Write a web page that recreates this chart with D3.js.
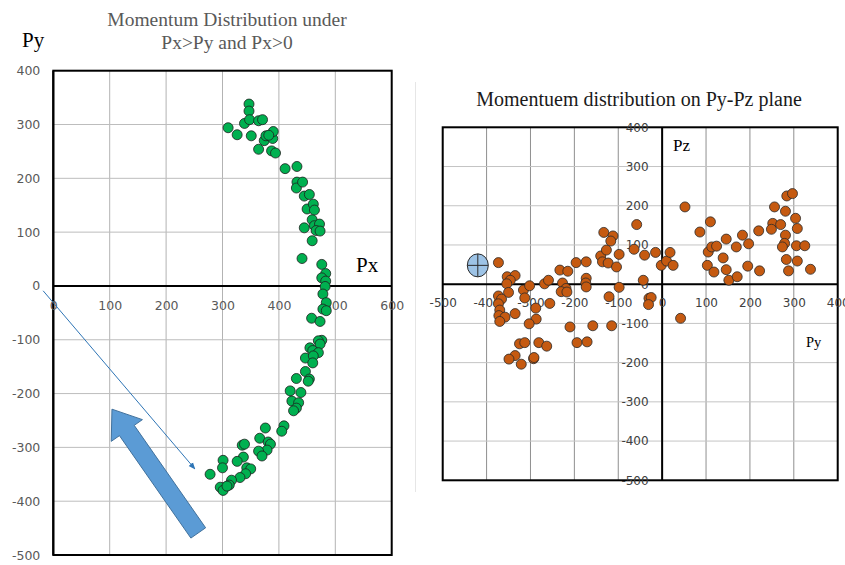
<html lang="en">
  <head>
    <meta charset="UTF-8" />
    <title>Momentum distribution</title>
    <script src="https://d3js.org/d3.v7.min.js"></script>
  </head>
  <style>
    body {
      margin: 0px;
      overflow: hidden;
      background: #fff;
    }
    .tick text {
      font-family: "DejaVu Sans", sans-serif;
    }
    .serif {
      font-family: "Liberation Serif", "Times New Roman", serif;
    }
  </style>
  <body>
    <svg width="845" height="565"></svg>
  </body>
  <footer>
    <script>
      // ---- data ----
      // left chart: Px / Py for Px>Py and Px>0
      var pxPyPoints = [
        [310, 294], [326, 281], [347, 338], [347, 325], [339, 302], [348, 309],
        [351, 279], [364, 307], [371, 309], [364, 254], [374, 270], [377, 279],
        [386, 279], [389, 274], [390, 287], [387, 251], [394, 247], [382, 280],
        [411, 218], [432, 222], [432, 193], [431, 182], [442, 193], [445, 167],
        [454, 170], [450, 143], [461, 152], [463, 141], [459, 123], [463, 112],
        [472, 115], [466, 103], [473, 102], [445, 108], [459, 84], [441, 51],
        [476, 40], [483, 23], [476, 15], [483, 9], [482, -1], [478, -15],
        [484, -31], [478, -43], [484, -46], [458, -60], [473, -66], [476, -101],
        [470, -102], [473, -108], [455, -115], [460, -120], [470, -124], [447, -134],
        [461, -130], [460, -143], [447, -159], [454, -173], [452, -177], [431, -172],
        [420, -195], [439, -198], [423, -214], [435, -217], [431, -227], [426, -232],
        [409, -260], [405, -270],
        [376, -264], [366, -283], [381, -290], [385, -294], [335, -296], [339, -294],
        [379, -305], [364, -307], [370, -316], [337, -318], [301, -324], [326, -326],
        [300, -338], [278, -350], [343, -338], [350, -340], [341, -349], [331, -356],
        [316, -361], [312, -370], [303, -375], [296, -374], [301, -380], [308, -372]
      ];

      // right chart: Py / Pz
      var pyPzPoints = [
        [-373, 55], [-353, 19], [-335, 22], [-346, 10], [-354, 1], [-350, -21],
        [-373, -30], [-366, -38], [-373, -50], [-370, -66], [-372, -80], [-358, -84],
        [-370, -95], [-335, -75], [-316, -15], [-313, -35], [-302, -4], [-288, -61],
        [-287, -89], [-303, -101], [-268, 1], [-259, 10], [-256, -49], [-233, 36],
        [-215, 33], [-227, 3], [-219, -11], [-230, -19], [-217, -20], [-196, 55],
        [-173, 57], [-173, 15], [-174, 3], [-173, -7], [-210, -109], [-158, -106],
        [-115, -106], [-194, -149], [-171, -147], [-325, -152], [-313, -149], [-281, -149],
        [-263, -158], [-335, -182], [-349, -191], [-321, -204], [-293, -190], [-292, -187],
        [-140, 72], [-133, 132], [-112, 123], [-117, 110], [-127, 87], [-136, 57],
        [-123, 54], [-104, 44], [-98, 76], [-121, -32], [-98, -8], [-58, 152],
        [-64, 89], [-40, 74], [-43, 10], [-30, -36], [-25, -34], [-31, -52],
        [-15, 81], [-2, 48], [10, 59], [18, 81], [25, 48], [52, 197],
        [86, 133], [110, 159], [105, 82], [113, 95], [124, 97], [103, 48],
        [118, 31], [139, 67], [146, 115], [146, 37], [152, 10], [169, 95],
        [171, 19], [183, 125], [197, 103], [195, 46], [220, 136], [222, 34],
        [256, 197], [252, 155], [249, 140], [270, 152], [284, 225], [297, 231],
        [281, 186], [304, 168], [308, 142], [281, 125], [279, 104], [274, 95],
        [306, 98], [325, 98], [283, 63], [308, 59], [288, 34], [338, 38],
        [42, -87]
      ];
      var beamPoint = [[-420, 48]];

      var leftXTicks = [0, 100, 200, 300, 400, 500, 600];
      var leftYTicks = [-500, -400, -300, -200, -100, 0, 100, 200, 300, 400];
      var rightTicks = [-500, -400, -300, -200, -100, 0, 100, 200, 300, 400];

      // annotation arrows (data units of the left chart)
      var thinArrow = [[-18, -9], [251, -340]];
      var bigArrow = { tail: [257, -459], tip: [104, -229] };

      var svg = d3.select("svg");

      // ---- scales ----
      var xL = d3.scaleLinear().domain([0, 600]).range([53.3, 391.7]);
      var yL = d3.scaleLinear().domain([-500, 400]).range([555, 70.7]);
      var xR = d3.scaleLinear().domain([-500, 400]).range([442.7, 837.7]);
      var yR = d3.scaleLinear().domain([-500, 400]).range([480.3, 127.3]);

      // faint separator
      svg.append("line")
        .attr("x1", 415.5).attr("x2", 415.5)
        .attr("y1", 82).attr("y2", 492)
        .attr("stroke", "#e6e6e6").attr("stroke-width", 1);

      function grid(g, x, y, xt, yt, vColor, hColor) {
        g.append("g").selectAll("line").data(xt).enter().append("line")
          .attr("x1", function (d) { return x(d); })
          .attr("x2", function (d) { return x(d); })
          .attr("y1", y.range()[0]).attr("y2", y.range()[1])
          .attr("stroke", vColor).attr("stroke-width", 1);
        g.append("g").selectAll("line").data(yt).enter().append("line")
          .attr("y1", function (d) { return y(d); })
          .attr("y2", function (d) { return y(d); })
          .attr("x1", x.range()[0]).attr("x2", x.range()[1])
          .attr("stroke", hColor).attr("stroke-width", 1);
      }

      function frame(g, x, y) {
        g.append("rect")
          .attr("x", x.range()[0]).attr("y", y.range()[1])
          .attr("width", x.range()[1] - x.range()[0])
          .attr("height", y.range()[0] - y.range()[1])
          .attr("fill", "none").attr("stroke", "#000").attr("stroke-width", 2);
        g.append("line")
          .attr("x1", x.range()[0]).attr("x2", x.range()[1])
          .attr("y1", y(0)).attr("y2", y(0))
          .attr("stroke", "#000").attr("stroke-width", 2);
        g.append("line")
          .attr("x1", x(Math.max(0, x.domain()[0]))).attr("x2", x(Math.max(0, x.domain()[0])))
          .attr("y1", y.range()[0]).attr("y2", y.range()[1])
          .attr("stroke", "#000").attr("stroke-width", 2);
      }

      // plain hyphen minus, as in the original
      var fmt = function (d) { return String(d); };

      function labels(g, x, y, xt, yt, yAxisX, size, color, xPad, yPad) {
        var ax = g.append("g")
          .attr("transform", "translate(0," + y(0) + ")")
          .call(d3.axisBottom(x).tickValues(xt).tickFormat(fmt).tickSize(0).tickPadding(xPad));
        var ay = g.append("g")
          .attr("transform", "translate(" + yAxisX + ",0)")
          .call(d3.axisLeft(y).tickValues(yt).tickFormat(fmt).tickSize(0).tickPadding(yPad));
        [ax, ay].forEach(function (a) {
          a.select(".domain").remove();
          a.selectAll("text").attr("fill", color).style("font-size", size + "px");
        });
      }

      // ---- left chart ----
      var gL = svg.append("g");
      grid(gL, xL, yL, leftXTicks, leftYTicks, "#b3b3b3", "#bdbdbd");
      frame(gL, xL, yL);
      labels(gL, xL, yL, leftXTicks, leftYTicks, xL(0), 12.5, "#595959", 15, 13);

      gL.append("g").selectAll("circle").data(pxPyPoints).enter().append("circle")
        .attr("cx", function (d) { return xL(d[0]); })
        .attr("cy", function (d) { return yL(d[1]); })
        .attr("r", 5)
        .attr("fill", "#00b050")
        .attr("stroke", "#1e1e1e").attr("stroke-width", 0.8);

      svg.append("text").attr("class", "serif")
        .attr("x", 227).attr("y", 26).attr("text-anchor", "middle")
        .attr("fill", "#595959").style("font-size", "19.5px")
        .text("Momentum Distribution under");
      svg.append("text").attr("class", "serif")
        .attr("x", 227).attr("y", 48.5).attr("text-anchor", "middle")
        .attr("fill", "#595959").style("font-size", "19.5px")
        .text("Px>Py and Px>0");
      svg.append("text").attr("class", "serif")
        .attr("x", 22).attr("y", 47).attr("fill", "#000")
        .style("font-size", "21px").text("Py");
      svg.append("text").attr("class", "serif")
        .attr("x", 356).attr("y", 272).attr("fill", "#000")
        .style("font-size", "21px").text("Px");

      // arrows
      var defs = svg.append("defs");
      defs.append("marker")
        .attr("id", "head").attr("viewBox", "0 0 10 10")
        .attr("refX", 9).attr("refY", 5)
        .attr("markerWidth", 7).attr("markerHeight", 7)
        .attr("orient", "auto")
        .append("path").attr("d", "M0,1 L10,5 L0,9 Z").attr("fill", "#2e75b6");

      svg.append("line")
        .attr("x1", xL(thinArrow[0][0])).attr("y1", yL(thinArrow[0][1]))
        .attr("x2", xL(thinArrow[1][0])).attr("y2", yL(thinArrow[1][1]))
        .attr("stroke", "#2e75b6").attr("stroke-width", 1)
        .attr("marker-end", "url(#head)");

      (function () {
        var tx = xL(bigArrow.tail[0]), ty = yL(bigArrow.tail[1]);
        var hx = xL(bigArrow.tip[0]), hy = yL(bigArrow.tip[1]);
        var len = Math.hypot(hx - tx, hy - ty);
        var ux = (hx - tx) / len, uy = (hy - ty) / len;
        var nx = -uy, ny = ux;
        var shaft = 9, head = 19, headLen = 26;
        var bx = hx - ux * headLen, by = hy - uy * headLen;
        var pts = [
          [tx + nx * shaft, ty + ny * shaft],
          [bx + nx * shaft, by + ny * shaft],
          [bx + nx * head, by + ny * head],
          [hx, hy],
          [bx - nx * head, by - ny * head],
          [bx - nx * shaft, by - ny * shaft],
          [tx - nx * shaft, ty - ny * shaft]
        ];
        svg.append("polygon")
          .attr("points", pts.map(function (p) { return p.join(","); }).join(" "))
          .attr("fill", "#5b9bd5").attr("stroke", "#41719c").attr("stroke-width", 1);
      })();

      // ---- right chart ----
      var gR = svg.append("g");
      grid(gR, xR, yR, rightTicks, rightTicks, "#8f8f8f", "#c4c4c4");
      frame(gR, xR, yR);
      labels(gR, xR, yR, rightTicks, rightTicks, xR(0), 12, "#404040", 14, 13.5);

      gR.append("g").selectAll("circle").data(pyPzPoints).enter().append("circle")
        .attr("cx", function (d) { return xR(d[0]); })
        .attr("cy", function (d) { return yR(d[1]); })
        .attr("r", 5)
        .attr("fill", "#c55a11")
        .attr("stroke", "#2a2a2a").attr("stroke-width", 0.8);

      var beam = gR.append("g").selectAll("g").data(beamPoint).enter().append("g")
        .attr("transform", function (d) { return "translate(" + xR(d[0]) + "," + yR(d[1]) + ")"; });
      beam.append("ellipse").attr("rx", 10.5).attr("ry", 11.5)
        .attr("fill", "#9dc3e6").attr("stroke", "#2a2a2a").attr("stroke-width", 1);
      beam.append("line").attr("x1", -10.5).attr("x2", 10.5)
        .attr("stroke", "#2a2a2a").attr("stroke-width", 1);
      beam.append("line").attr("y1", -11.5).attr("y2", 11.5)
        .attr("stroke", "#2a2a2a").attr("stroke-width", 1);

      svg.append("text").attr("class", "serif")
        .attr("x", 639).attr("y", 106).attr("text-anchor", "middle")
        .attr("fill", "#1a1a1a").style("font-size", "20px")
        .text("Momentuem distribution on Py-Pz plane");
      svg.append("text").attr("class", "serif")
        .attr("x", 673).attr("y", 151).attr("fill", "#000")
        .style("font-size", "17px").text("Pz");
      svg.append("text").attr("class", "serif")
        .attr("x", 806).attr("y", 347).attr("fill", "#000")
        .style("font-size", "14.5px").text("Py");
    </script>
  </footer>
</html>
